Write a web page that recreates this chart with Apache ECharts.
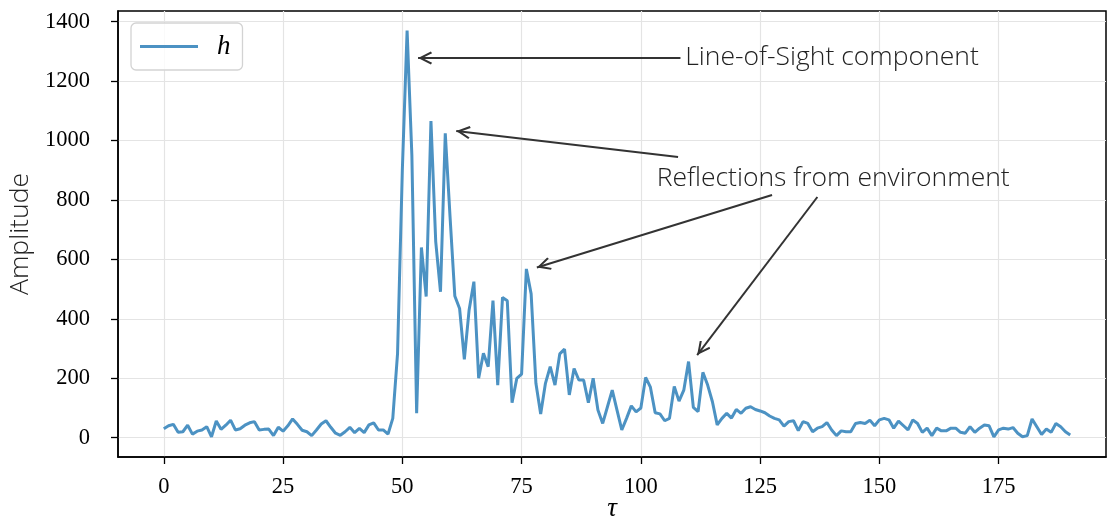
<!DOCTYPE html>
<html><head><meta charset="utf-8">
<script src="https://cdn.jsdelivr.net/npm/echarts@6/dist/echarts.min.js"></script>
<style>html,body{margin:0;padding:0;background:#fff}#c{width:1108px;height:522px}</style>
</head><body><div id="c"></div>
<script>
// ---- data ----
const tau = Array.from({length: 191}, (_, i) => i);
const amplitude = [
  30, 40, 45, 18, 20, 42, 12, 22, 26, 37,
  3, 56, 28, 42, 59, 26, 30, 42, 50, 54,
  26, 28, 29, 7, 35, 22, 40, 63, 45, 25,
  20, 7, 26, 46, 57, 35, 15, 8, 20, 35,
  17, 31, 17, 43, 50, 26, 26, 12, 65, 284,
  900, 1370, 950, 82, 640, 475, 1066, 660, 491, 1024,
  744, 477, 435, 264, 430, 525, 200, 284, 239, 461,
  177, 472, 461, 118, 200, 214, 568, 484, 183, 80,
  183, 239, 177, 282, 298, 144, 233, 194, 194, 118,
  200, 93, 48, 104, 160, 93, 26, 65, 107, 87,
  100, 203, 170, 84, 80, 57, 65, 172, 123, 160,
  256, 102, 88, 220, 177, 121, 43, 65, 82, 66,
  95, 82, 99, 104, 95, 90, 84, 73, 65, 60,
  39, 54, 57, 24, 54, 48, 20, 32, 37, 51,
  26, 7, 23, 20, 20, 48, 51, 48, 59, 40,
  60, 65, 60, 32, 56, 41, 26, 60, 48, 18,
  32, 7, 32, 23, 23, 32, 32, 18, 15, 37,
  18, 32, 43, 40, 3, 26, 32, 29, 34, 15,
  3, 7, 63, 37, 11, 29, 18, 48, 37, 20,
  9
];
const xTickValues = [0, 25, 50, 75, 100, 125, 150, 175];
const yTickValues = [0, 200, 400, 600, 800, 1000, 1200, 1400];
const annotationTexts = ['Line-of-Sight component', 'Reflections from environment'];
const annotationAnchors = [[109.2, 1281], [103.2, 874]];
const arrowTails = [[108.3, 1278], [107.8, 945], [127.5, 817], [137.0, 810]];
const arrowHeads = [[53.3, 1278], [61.3, 1032], [78.2, 573], [111.8, 278]];

// ---- chart ----
const serifFont = '"Liberation Serif", "DejaVu Serif", serif';
const sansFont = '"Open Sans", "Noto Sans", sans-serif';
const arrowPath = 'path://M5,0L10,8.6L8.7,9.4L5,3L1.3,9.4L0,8.6ZM5,-9.4L5.001,-9.4Z';

const chart = echarts.init(document.getElementById('c'), null, {renderer: 'canvas'});
chart.setOption({
  animation: false,
  backgroundColor: '#fff',
  grid: {
    left: 118, right: 2, top: 11, bottom: 65,
    outerBoundsMode: 'none', containLabel: false,
    show: true, borderColor: '#000', borderWidth: 1.5, backgroundColor: 'transparent'
  },
  legend: {
    left: 131, top: 23,
    data: [{name: 'h', icon: 'rect'}],
    itemWidth: 58, itemHeight: 3,
    padding: [10, 12, 10, 9],
    borderColor: '#d3d3d3', borderWidth: 1.3, borderRadius: 5,
    backgroundColor: 'rgba(255,255,255,0.8)',
    textStyle: {fontFamily: serifFont, fontStyle: 'italic', fontSize: 27, color: '#000',
      lineHeight: 25, padding: [0, 0, 0, 14]}
  },
  xAxis: {
    type: 'value', min: -9.6, max: 197.5,
    name: 'τ', nameLocation: 'middle', nameGap: 38, nameMoveOverlap: false,
    nameTextStyle: {fontFamily: serifFont, fontStyle: 'italic', fontSize: 27, color: '#000'},
    axisLine: {show: true, onZero: false, lineStyle: {color: '#000', width: 1.5}},
    axisTick: {show: true, length: 7, customValues: xTickValues, lineStyle: {color: '#000', width: 1.3}},
    axisLabel: {customValues: xTickValues, margin: 19, formatter: v => String(v),
      fontFamily: serifFont, fontSize: 22.5, color: '#000'},
    splitLine: {show: true, lineStyle: {color: '#e4e4e4', width: 1.2}}
  },
  yAxis: {
    type: 'value', min: -65, max: 1436,
    name: 'Amplitude', nameLocation: 'middle', nameGap: 84, nameRotate: 90, nameMoveOverlap: false,
    nameTextStyle: {fontFamily: sansFont, fontWeight: 300, fontSize: 26.5, color: '#222'},
    axisLine: {show: true, onZero: false, lineStyle: {color: '#000', width: 1.5}},
    axisTick: {show: true, length: 7, customValues: yTickValues, lineStyle: {color: '#000', width: 1.3}},
    axisLabel: {customValues: yTickValues, margin: 28, formatter: v => String(v),
      fontFamily: serifFont, fontSize: 22.5, color: '#000'},
    splitLine: {show: true, lineStyle: {color: '#e4e4e4', width: 1.2}}
  },
  series: [{
    name: 'h',
    type: 'line',
    data: tau.map((t, i) => [t, amplitude[i]]),
    symbol: 'none',
    color: '#4c92c3',
    lineStyle: {color: '#4c92c3', width: 3},
    markLine: {
      silent: true,
      symbol: ['none', 'none'],
      label: {show: false},
      emphasis: {disabled: true},
      lineStyle: {color: '#333', width: 2, type: 'solid'},
      data: arrowTails.map((t, i) => [
        {coord: t, symbol: 'none'},
        {coord: arrowHeads[i], symbol: arrowPath, symbolSize: [13, 28]}
      ])
    },
    markPoint: {
      silent: true,
      data: annotationTexts.map((txt, i) => ({
        coord: annotationAnchors[i],
        symbol: 'circle', symbolSize: 1,
        itemStyle: {color: 'rgba(0,0,0,0)'},
        label: {show: true, position: 'right', distance: 0, formatter: txt,
          fontFamily: sansFont, fontWeight: 300, fontSize: 26.5, color: '#222'}
      }))
    }
  }]
});
</script>
</body></html>
